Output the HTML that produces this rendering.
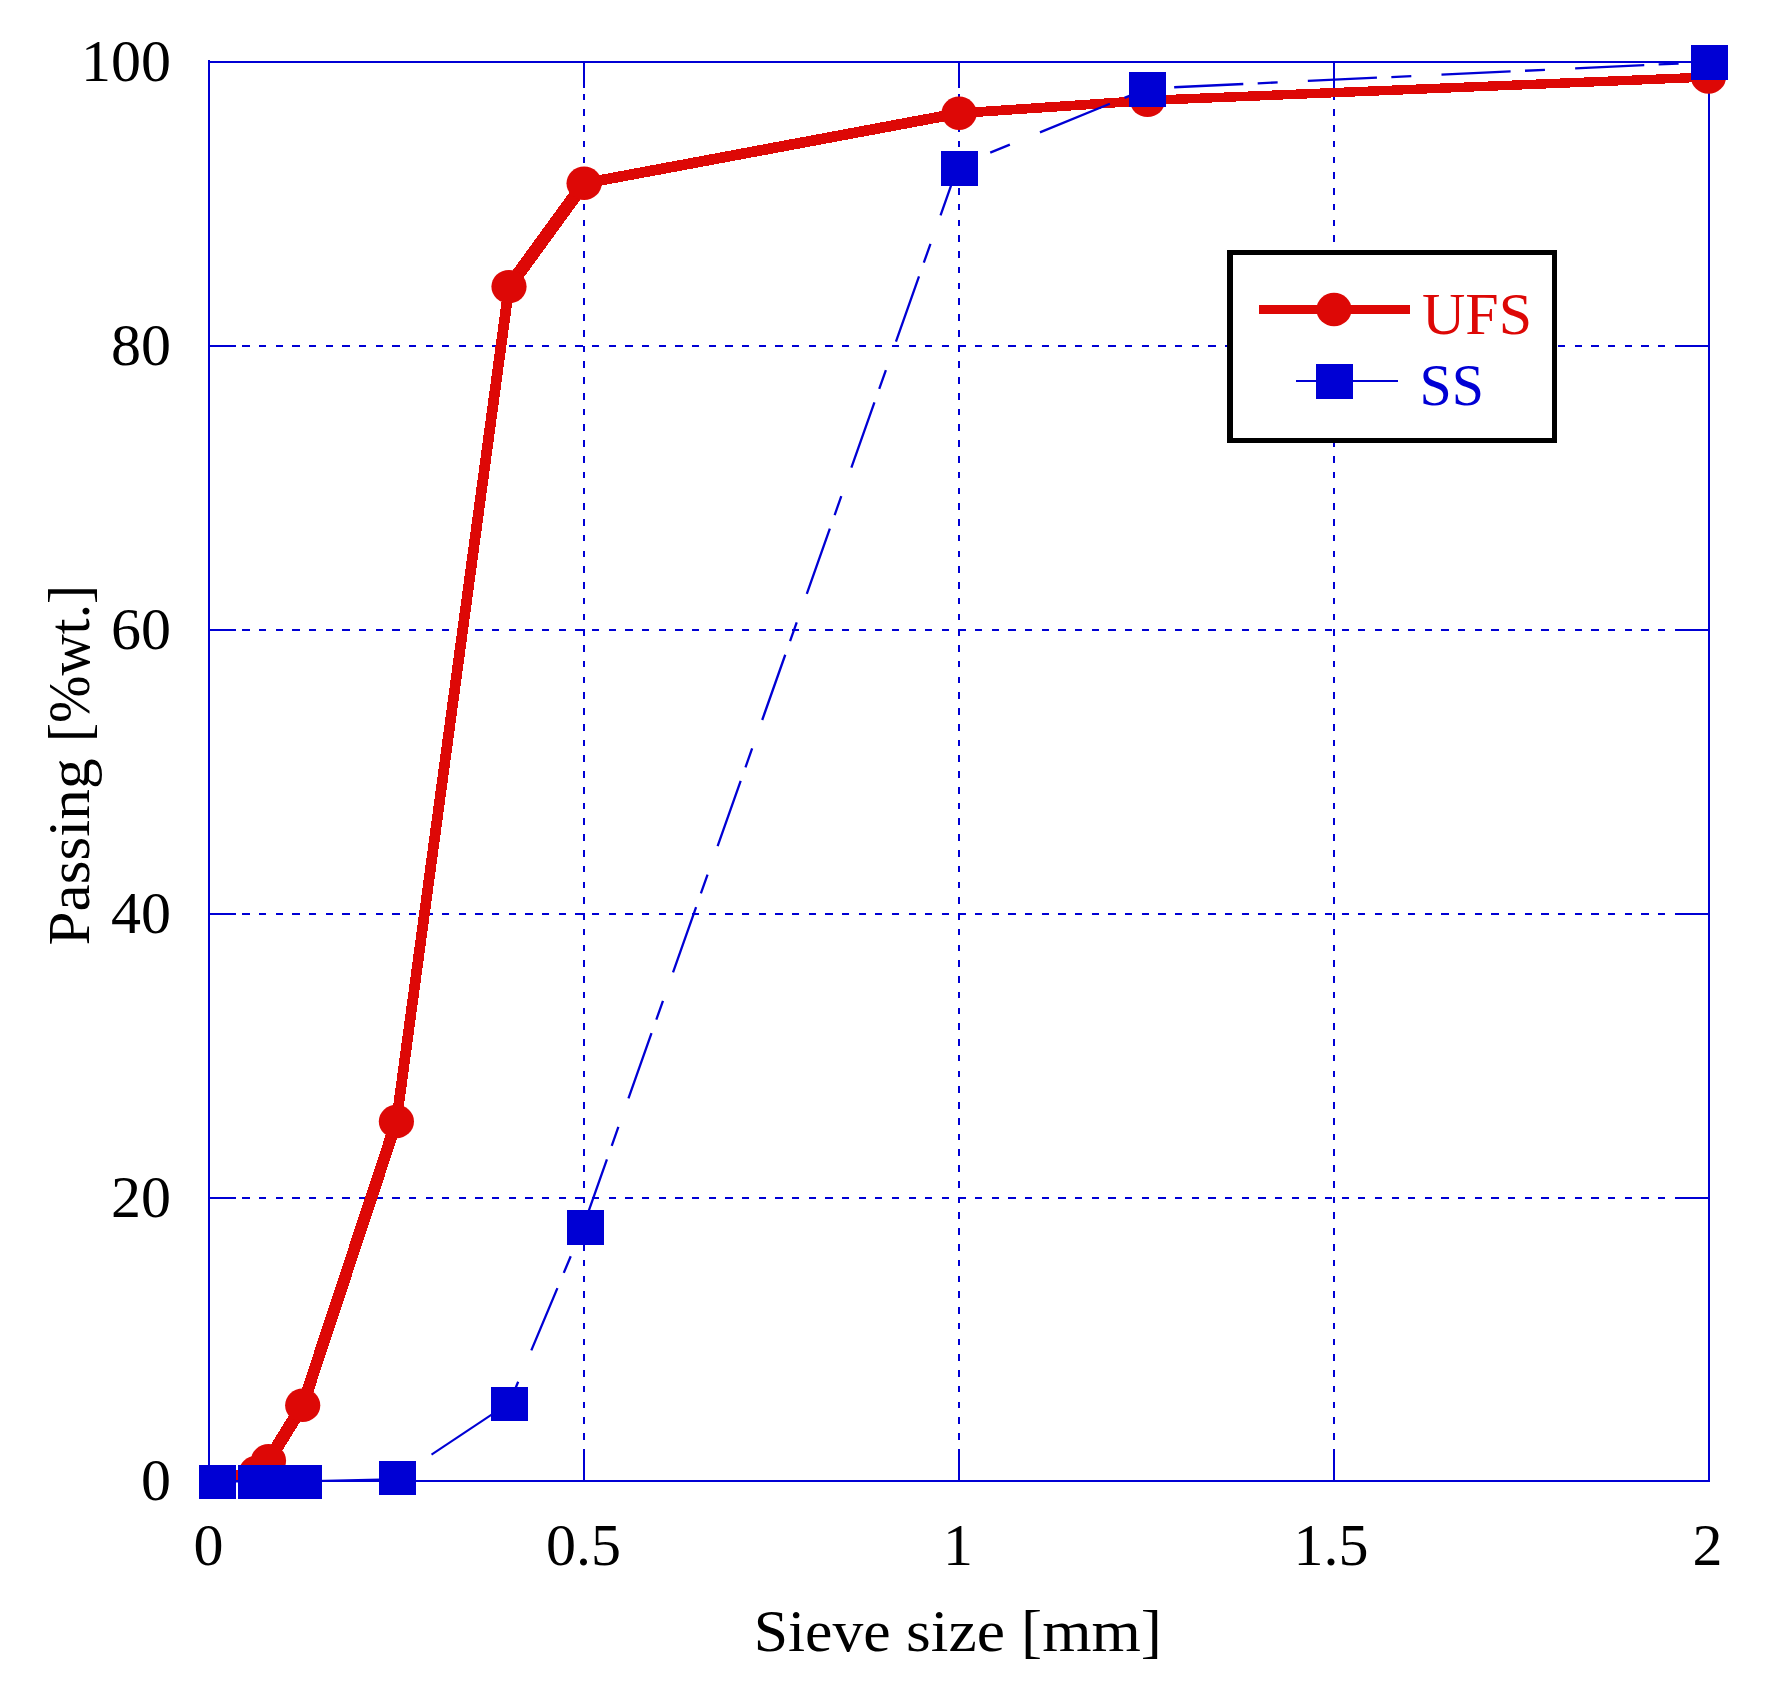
<!DOCTYPE html>
<html lang="en"><head><meta charset="utf-8"><title>Sieve size vs Passing</title>
<style>
html,body{margin:0;padding:0;background:#fff;}
body{width:1775px;height:1706px;overflow:hidden;}
svg{display:block;}
text{font-family:"Liberation Serif","DejaVu Serif",serif;font-size:60px;fill:#000;}
.b{stroke:#0000D4;stroke-width:2;fill:none;}
.g{stroke:#0000D4;stroke-width:2;fill:none;stroke-dasharray:7.3 9.355;}
.r{stroke:#DD0806;fill:none;stroke-linejoin:round;stroke-linecap:butt;}
.d{stroke:#0000D4;stroke-width:2.3;fill:none;stroke-dasharray:69.2 14.4 20 30.2;}
</style></head><body>
<svg width="1775" height="1706" viewBox="0 0 1775 1706" shape-rendering="crispEdges">
<rect x="0" y="0" width="1775" height="1706" fill="#fff"/>
<g class="g">
<line stroke-dasharray="6.6 9.16" x1="584" y1="62" x2="584" y2="1481"/>
<line stroke-dasharray="6.6 9.16" x1="959" y1="62" x2="959" y2="1481"/>
<line stroke-dasharray="6.6 9.16" x1="1334" y1="62" x2="1334" y2="1481"/>
<line x1="209" y1="1198" x2="1709" y2="1198"/>
<line x1="209" y1="914" x2="1709" y2="914"/>
<line x1="209" y1="630" x2="1709" y2="630"/>
<line x1="209" y1="346" x2="1709" y2="346"/>
</g>
<g class="b">
<rect x="209" y="62" width="1500" height="1419"/>
<line x1="209" y1="60" x2="209" y2="62"/>
<line x1="584" y1="62" x2="584" y2="87.5339"/>
<line x1="584" y1="1481" x2="584" y2="1455.47"/>
<line x1="959" y1="62" x2="959" y2="87.5339"/>
<line x1="959" y1="1481" x2="959" y2="1455.47"/>
<line x1="1334" y1="62" x2="1334" y2="87.5339"/>
<line x1="1334" y1="1481" x2="1334" y2="1455.47"/>
<line x1="209" y1="1198" x2="236" y2="1198"/>
<line x1="1709" y1="1198" x2="1682" y2="1198"/>
<line x1="209" y1="914" x2="236" y2="914"/>
<line x1="1709" y1="914" x2="1682" y2="914"/>
<line x1="209" y1="630" x2="236" y2="630"/>
<line x1="1709" y1="630" x2="1682" y2="630"/>
<line x1="209" y1="346" x2="236" y2="346"/>
<line x1="1709" y1="346" x2="1682" y2="346"/>
</g>
<g fill="#DD0806" stroke="none">
<polygon points="212.5,1473.5 251.5,1468 261.1,1468 261.1,1477 222.1,1482.5 212.5,1482.5"/>
<polygon points="251.5,1468 263.7,1456.2 273.3,1456.2 273.3,1465.2 261.1,1477 251.5,1477"/>
<polygon points="263.7,1456.2 297.9,1400.8 307.5,1400.8 307.5,1409.8 273.3,1465.2 263.7,1465.2"/>
<polygon points="297.9,1400.8 391.6,1117 401.2,1117 401.2,1126 307.5,1409.8 297.9,1409.8"/>
<polygon points="391.6,1117 504.2,282.1 513.8,282.1 513.8,291.2 401.2,1126 391.6,1126"/>
<polygon points="504.2,282.1 579.3,178.8 588.9,178.8 588.9,187.9 513.8,291.2 504.2,291.2"/>
<polygon points="579.3,178.8 954.3,108.7 963.9,108.7 963.9,117.8 588.9,187.9 579.3,187.9"/>
<polygon points="954.3,108.7 1142.7,95.9 1152.3,95.9 1152.3,105 963.9,117.8 954.3,117.8"/>
<polygon points="1142.7,95.9 1703.7,72.5 1713.3,72.5 1713.3,81.5 1152.3,105 1142.7,105"/>
</g>
<g fill="#DD0806" shape-rendering="auto">
<ellipse cx="256.3" cy="1472.5" rx="17.6" ry="16.7"/>
<ellipse cx="268.5" cy="1460.7" rx="17.6" ry="16.7"/>
<ellipse cx="302.7" cy="1405.3" rx="17.6" ry="16.7"/>
<ellipse cx="396.4" cy="1121.5" rx="17.6" ry="16.7"/>
<ellipse cx="509.0" cy="286.6" rx="17.6" ry="16.7"/>
<ellipse cx="584.1" cy="183.3" rx="17.6" ry="16.7"/>
<ellipse cx="959.1" cy="113.2" rx="17.6" ry="16.7"/>
<ellipse cx="1147.5" cy="100.4" rx="17.6" ry="16.7"/>
<ellipse cx="1708.5" cy="77.0" rx="17.6" ry="16.7"/>
</g>
<g shape-rendering="auto">
<line class="b" stroke-width="2.3" x1="217.3" y1="1481.5" x2="256.4" y2="1481.5"/>
<line class="b" stroke-width="2.3" x1="256.4" y1="1481.5" x2="265.3" y2="1481.5"/>
<line class="b" stroke-width="2.3" x1="265.3" y1="1481.5" x2="276.5" y2="1481.5"/>
<line class="b" stroke-width="2.3" x1="276.5" y1="1481.5" x2="303.3" y2="1481.5"/>
<line class="b" x1="303.3" y1="1481.3" x2="380" y2="1479.6"/>
<line class="b" stroke-width="2.3" x1="431.5" y1="1454.6" x2="509.3" y2="1402.9"/>
<line class="d" style="stroke-dasharray:0 3 20 34 67.5 16.5 18 33 100" x1="509.3" y1="1402.9" x2="583.2" y2="1226.5"/>
<line class="d" stroke-dashoffset="-2" x1="583.2" y1="1226.5" x2="958.1" y2="165.7"/>
<line class="d" style="stroke-dasharray:0 34.7 21.2 32.5 75.5 15.8 30 100" x1="958.1" y1="165.7" x2="1147.4" y2="88.5"/>
<line class="d" stroke-dashoffset="107" x1="1147.4" y1="88.5" x2="1709.0" y2="62.1"/>
</g>
<g fill="#0000D4">
<rect x="198.8" y="1464.7" width="37" height="34.4"/>
<rect x="237.9" y="1464.7" width="37" height="34.4"/>
<rect x="246.8" y="1464.7" width="37" height="34.4"/>
<rect x="258.0" y="1464.7" width="37" height="34.4"/>
<rect x="284.8" y="1464.7" width="37" height="34.4"/>
<rect x="379.0" y="1460.8" width="37" height="34.4"/>
<rect x="490.8" y="1386.5" width="37" height="34.4"/>
<rect x="566.5" y="1210.1" width="37" height="34.4"/>
<rect x="940.7" y="151.2" width="37" height="34.4"/>
<rect x="1129.0" y="72.1" width="37" height="34.4"/>
<rect x="1690.7" y="45.4" width="37" height="34.4"/>
</g>
<rect x="1227" y="250" width="330" height="193" fill="#000"/>
<rect x="1233" y="255" width="319" height="183" fill="#fff"/>
<line x1="1259" y1="309.5" x2="1410" y2="309.5" stroke="#DD0806" stroke-width="9"/>
<ellipse cx="1334" cy="309.5" rx="17.6" ry="16.7" fill="#DD0806" shape-rendering="auto"/>
<line x1="1296" y1="381" x2="1398" y2="381" stroke="#0000D4" stroke-width="2"/>
<rect x="1316" y="363.8" width="37" height="35" fill="#0000D4"/>
<text x="1422" y="334" style="fill:#DD0806;font-size:59px" textLength="110" lengthAdjust="spacingAndGlyphs">UFS</text>
<text x="1419.5" y="405" style="fill:#0000D4;font-size:59px" textLength="64.5" lengthAdjust="spacingAndGlyphs">SS</text>
<text x="171" y="81" text-anchor="end">100</text>
<text x="171" y="365" text-anchor="end">80</text>
<text x="171" y="649" text-anchor="end">60</text>
<text x="171" y="933" text-anchor="end">40</text>
<text x="171" y="1217" text-anchor="end">20</text>
<text x="171" y="1499.5" text-anchor="end">0</text>
<text x="208.5" y="1565" text-anchor="middle">0</text>
<text x="583.5" y="1565" text-anchor="middle">0.5</text>
<text x="958" y="1565" text-anchor="middle">1</text>
<text x="1331" y="1565" text-anchor="middle">1.5</text>
<text x="1707.5" y="1565" text-anchor="middle">2</text>
<text y="1650.5" style="font-size:59px"><tspan x="753.7" textLength="137" lengthAdjust="spacingAndGlyphs">Sieve</tspan> <tspan x="906" textLength="99" lengthAdjust="spacingAndGlyphs">size</tspan> <tspan x="1021" textLength="141" lengthAdjust="spacingAndGlyphs">[mm]</tspan></text>
<text transform="translate(88.5 0) rotate(-90)" y="0" style="font-size:59px"><tspan x="-945.5" textLength="187" lengthAdjust="spacingAndGlyphs">Passing</tspan> <tspan x="-742" textLength="157" lengthAdjust="spacingAndGlyphs">[%wt.]</tspan></text>
</svg>
</body></html>
